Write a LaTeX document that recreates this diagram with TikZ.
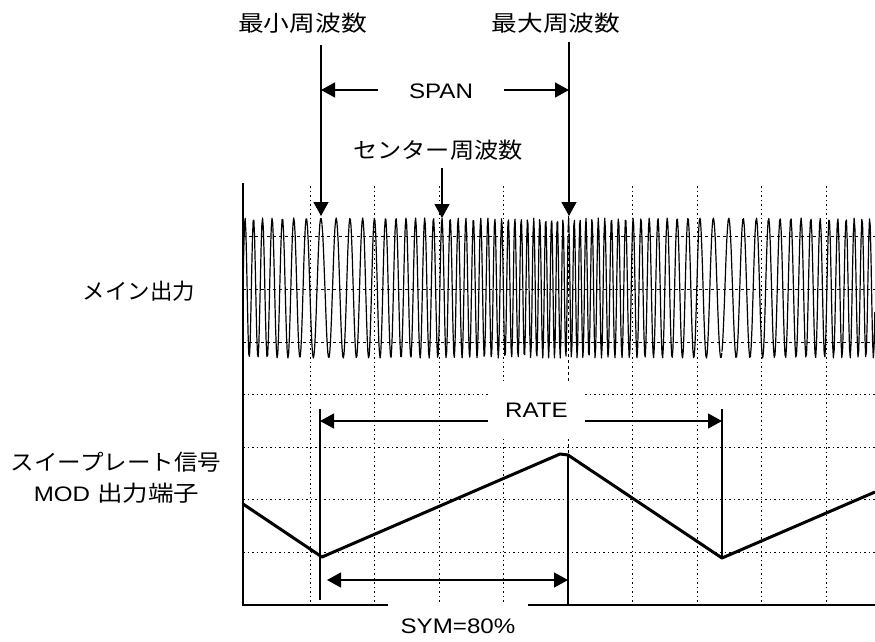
\documentclass[tikz,border=0pt]{standalone}
\usepackage{fontspec}
\usepackage{graphicx}
\setmainfont{Liberation Sans}
\newfontfamily\jpfont{Noto Sans CJK JP}
\usetikzlibrary{arrows.meta}
\newcommand\lat[1]{\scalebox{1.15}[1]{\fontsize{21}{21}\selectfont #1}}
\newcommand\jpt[2]{\scalebox{#1}[1]{\fontsize{22}{22}\selectfont\jpfont #2}}
% x0, L, f1, f2, phi0, samples
\newcommand\fmseg[6]{\draw[wave] plot[domain=0:1,samples=#6,variable=\t] ({#1+#2*\t},{288-70*sin(360*mod(#5+#2*(#3*\t+(#4-#3)/2*\t*\t),1))});}
\begin{document}
\begin{tikzpicture}[x=1pt,y=-1pt,
  grid/.style={line width=0.9pt, dash pattern=on 1.5pt off 3pt},
  gridtop/.style={line width=0.9pt, dash pattern=on 3pt off 3pt},
  wave/.style={line width=1.2pt, line join=round},
  tri/.style={line width=3pt, line join=round},
  vline/.style={line width=1.2pt},
  arr/.style={line width=1.2pt, -{Triangle[length=14pt,width=15pt]}},
  darr/.style={line width=1.2pt, {Triangle[length=14pt,width=15pt]}-{Triangle[length=14pt,width=15pt]}},
  lbl/.style={inner sep=0pt},
  wbox/.style={fill=white, inner sep=0pt}
]
\useasboundingbox (0,0) rectangle (875,641);
% grid
\foreach \x in {310,374.5,439,503.5,632.5,697,761.5,826} \draw[grid] (\x,186) -- (\x,605);
\draw[gridtop] (568,186) -- (568,605);
\foreach \y in {394,447,499,552} \draw[grid] (243,\y) -- (875,\y);
\foreach \y in {236,289,342} \draw[gridtop] (243,\y) -- (875,\y);
% FM waveform
\fmseg{243}{79}{0.122776}{0.0625}{0}{110}
\fmseg{322}{246}{0.0625}{0.18}{0.3184}{380}
\fmseg{568}{154}{0.18}{0.0625}{0.1459}{240}
\fmseg{722}{153}{0.0625}{0.13558}{0.8184}{200}
% triangle (sweep signal)
\draw[tri] (243,504) -- (322,557) -- (560,454) -- (568,455) -- (722,558) -- (875,492);
% frame
\draw[line width=1.3pt] (243,183) -- (243,605);
\draw[line width=2.4pt] (242.35,605) -- (875,605);
% marker lines
\coordinate (rL) at (320,409); \coordinate (rLb) at (320,600);
\coordinate (rR) at (722,409); \coordinate (rRb) at (722,558);
\coordinate (pk) at (568,455); \coordinate (pkb) at (568,605);
\draw[vline] (rL) -- (rLb);
\draw[vline] (rR) -- (rRb);
\draw[vline] (pk) -- (pkb);
% RATE
\coordinate (rate1) at (320,421); \coordinate (rate2) at (722,421);
\draw[darr] (rate1) -- (rate2);
\node[wbox, minimum width=97pt, minimum height=58pt] (rate) at (536.5,410) {\lat{RATE}};
% SYM
\coordinate (sym1) at (327,580); \coordinate (sym2) at (568,580);
\draw[darr] (sym1) -- (sym2);
\node[wbox, minimum width=140pt, minimum height=46pt] (sym) at (458,626) {\lat{SYM=80\%}};
% SPAN
\coordinate (sp1) at (321,90); \coordinate (sp2) at (569,90);
\draw[darr] (sp1) -- (sp2);
\node[wbox, minimum width=126pt, minimum height=24pt] (span) at (441,91) {\lat{SPAN}};
% vertical arrows
\coordinate (minA) at (321,45); \coordinate (minB) at (321,216);
\coordinate (maxA) at (569,42); \coordinate (maxB) at (569,216);
\coordinate (cenA) at (442,168); \coordinate (cenB) at (442,218);
\draw[arr] (minA) -- (minB);
\draw[arr] (maxA) -- (maxB);
\draw[arr] (cenA) -- (cenB);
% labels
\node[lbl] (minlbl) at (302.5,23) {\jpt{1.17}{最小周波数}};
\node[lbl] (maxlbl) at (556,23) {\jpt{1.17}{最大周波数}};
\node[lbl] (cenlbl) at (438,150) {\jpt{1.10}{センター周波数}};
\node[lbl] (mainlbl) at (139,291.5) {\jpt{1.02}{メイン出力}};
\node[lbl] (sweeplbl) at (116,462) {\jpt{1.07}{スイープレート信号}};
\node[lbl] (modlbl) at (116.5,493) {\lat{MOD}\hspace{7pt}\jpt{1.16}{出力端子}};
\end{tikzpicture}
\end{document}
